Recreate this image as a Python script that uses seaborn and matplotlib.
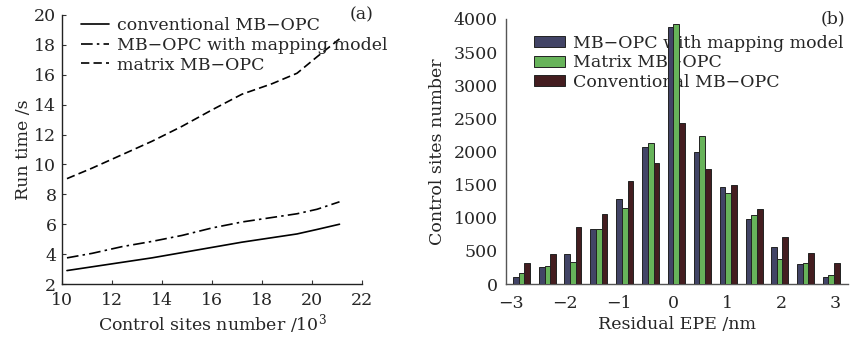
import numpy as np
import pandas as pd
import seaborn as sns
import matplotlib
matplotlib.use("Agg")
import matplotlib.pyplot as plt

# ---------------- data: panel (a) ----------------
sites = [10.2, 11.2, 12.4, 13.6, 14.8, 16.0, 17.2, 18.4, 19.4, 20.2, 21.1]
t_conventional = [2.9, 3.15, 3.45, 3.75, 4.1, 4.45, 4.8, 5.1, 5.35, 5.65, 6.0]
t_mapping = [3.75, 4.05, 4.5, 4.85, 5.25, 5.75, 6.15, 6.45, 6.7, 7.0, 7.5]
t_matrix = [9.05, 9.75, 10.65, 11.55, 12.55, 13.65, 14.7, 15.4, 16.1, 17.2, 18.4]
line_labels = ["conventional MB\u2212OPC", "MB\u2212OPC with mapping model", "matrix MB\u2212OPC"]

# ---------------- data: panel (b) ----------------
epe_bins = [-2.8, -2.32, -1.85, -1.37, -0.89, -0.41, 0.06, 0.54, 1.02, 1.5, 1.97, 2.45, 2.93]
cnt_mapping = [110, 250, 450, 830, 1290, 2075, 3880, 1985, 1470, 975, 560, 295, 105]
cnt_matrix = [160, 275, 325, 830, 1150, 2125, 3930, 2240, 1380, 1045, 380, 310, 130]
cnt_conventional = [315, 460, 860, 1050, 1560, 1830, 2435, 1730, 1500, 1125, 715, 475, 320]
bar_labels = ["MB\u2212OPC with mapping model", "Matrix MB\u2212OPC", "Conventional MB\u2212OPC"]
bar_colors = ["#3c3e6c", "#5cc24b", "#4a171b"]

sns.set_theme(style="ticks")
plt.rcParams["font.family"] = ["DejaVu Serif"]
plt.rcParams["mathtext.fontset"] = "dejavuserif"
FS = 12.5

fig = plt.figure(figsize=(8.56, 3.39), dpi=100)
ax1 = fig.add_axes([0.0724, 0.1622, 0.3505, 0.7936])
ax2 = fig.add_axes([0.5911, 0.1622, 0.3996, 0.7818])

# ---- panel (a)
df_a = pd.DataFrame({
    "x": sites * 3,
    "y": t_conventional + t_mapping + t_matrix,
    "s": [line_labels[0]] * len(sites) + [line_labels[1]] * len(sites) + [line_labels[2]] * len(sites),
})
sns.lineplot(data=df_a, x="x", y="y", hue="s", style="s",
             palette=["black"] * 3,
             dashes={line_labels[0]: "", line_labels[1]: (7, 2.5, 1.5, 2.5), line_labels[2]: (5, 2.5)},
             linewidth=1.2, ax=ax1, legend=True)
ax1.set_xlim(10, 22)
ax1.set_ylim(2, 20)
ax1.set_xticks(range(10, 23, 2))
ax1.set_yticks(range(2, 21, 2))
ax1.set_xlabel("Control sites number /10$^3$", fontsize=FS, labelpad=2)
ax1.set_ylabel("Run time /s", fontsize=FS, labelpad=2)
ax1.tick_params(direction="in", length=3, width=0.8, labelsize=FS, color="#333333")
ax1.tick_params(axis="x", pad=6)
ax1.tick_params(axis="y", pad=4)
for sp in ["top", "right"]:
    ax1.spines[sp].set_visible(False)
for sp in ["left", "bottom"]:
    ax1.spines[sp].set_linewidth(1.0)
    ax1.spines[sp].set_color("#222222")
leg = ax1.legend(loc="upper left", bbox_to_anchor=(0.03, 1.03), frameon=False, fontsize=FS,
                 handlelength=1.6, handletextpad=0.45, labelspacing=0.15, borderaxespad=0.2)
ax1.text(1.0, 1.0, "(a)", transform=ax1.transAxes, ha="center", va="center", fontsize=FS)

# ---- panel (b)
df_b = pd.DataFrame({
    "x": epe_bins * 3,
    "y": cnt_mapping + cnt_matrix + cnt_conventional,
    "s": [bar_labels[0]] * len(epe_bins) + [bar_labels[1]] * len(epe_bins) + [bar_labels[2]] * len(epe_bins),
})
sns.barplot(data=df_b, x="x", y="y", hue="s", hue_order=bar_labels, palette=bar_colors,
            native_scale=True, width=0.67, gap=0.0, edgecolor="#222222", linewidth=0.7,
            ax=ax2, legend=True, zorder=3)
ax2.set_xlim(-3.09, 3.24)
ax2.set_ylim(0, 4000)
ax2.set_xticks([-3, -2, -1, 0, 1, 2, 3])
ax2.set_xticklabels(["\u22123", "\u22122", "\u22121", "0", "1", "2", "3"])
ax2.set_yticks(range(0, 4001, 500))
ax2.set_xlabel("Residual EPE /nm", fontsize=FS, labelpad=3)
ax2.set_ylabel("Control sites number", fontsize=FS, labelpad=5)
ax2.tick_params(direction="in", length=0, labelsize=FS)
ax2.tick_params(axis="x", pad=8)
ax2.tick_params(axis="y", pad=6)
for sp in ["top", "right"]:
    ax2.spines[sp].set_visible(False)
for sp in ["left", "bottom"]:
    ax2.spines[sp].set_linewidth(1.0)
    ax2.spines[sp].set_color("#555555")
leg2 = ax2.legend(loc="upper left", bbox_to_anchor=(0.05, 0.98), frameon=False, fontsize=FS,
                  handlelength=1.8, handleheight=0.6, handletextpad=0.5, labelspacing=0.15,
                  borderaxespad=0.2)
leg2.set_zorder(1)
ax2.text(0.955, 1.0, "(b)", transform=ax2.transAxes, ha="center", va="center", fontsize=FS)

fig.savefig("out.png", dpi=100)
